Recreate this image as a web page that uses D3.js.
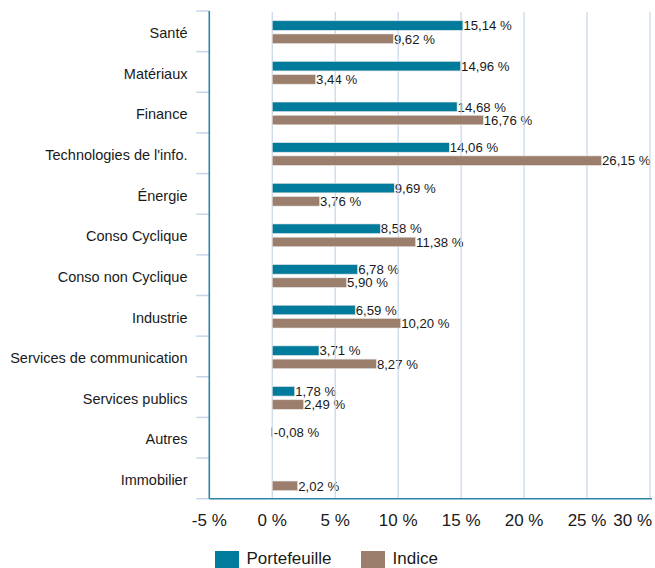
<!DOCTYPE html>
<html><head><meta charset="utf-8">
<script src="https://cdn.jsdelivr.net/npm/d3@7"></script>
<style>
html,body{margin:0;padding:0;background:#fff;}
svg{display:block;font-family:"Liberation Sans",Arial,Helvetica,sans-serif;}
</style></head>
<body>
<svg id="chart" width="655" height="568"></svg>
<script>
const categories = ["Santé","Matériaux","Finance","Technologies de l'info.","Énergie","Conso Cyclique","Conso non Cyclique","Industrie","Services de communication","Services publics","Autres","Immobilier"];
const seriesNames = ["Portefeuille","Indice"];
const portefeuille = [15.14,14.96,14.68,14.06,9.69,8.58,6.78,6.59,3.71,1.78,-0.08,null];
const indice = [9.62,3.44,16.76,26.15,3.76,11.38,5.90,10.20,8.27,2.49,null,2.02];
const xTicks = [-5,0,5,10,15,20,25,30];
const colors = ["#007b9c","#9b7e6b"];

const svg = d3.select("#chart");
const mLeft = 209.3, mRight = 650, mTop = 11, mBottom = 498.7;

const x = d3.scaleLinear().domain([-5,30]).range([mLeft,mRight]);
const y = d3.scaleBand().domain(categories).range([mTop,mBottom]).padding(0);
const y1 = d3.scaleBand().domain(seriesNames).range([y.bandwidth()*0.24, y.bandwidth()*0.80]).paddingInner(0.28);

const fmt = v => (v.toFixed(2).replace(".",",")) + " %";

const data = [];
categories.forEach((c,i)=>{
  [portefeuille[i], indice[i]].forEach((v,j)=>{
    if (v !== null) data.push({cat:c, s:seriesNames[j], v:v, j:j});
  });
});

// value labels (drawn under gridlines)
svg.append("g").selectAll("text").data(data).join("text")
  .attr("x", d => Math.max(x(0), x(d.v)) + (d.v < 0 ? 1.5 : 0.5))
  .attr("y", d => y(d.cat) + y1(d.s) + y1.bandwidth()/2)
  .attr("dy","0.36em")
  .attr("font-size","13.2px")
  .attr("fill","#1a1a1a")
  .text(d => fmt(d.v));

// gridlines
svg.append("g").selectAll("line").data(xTicks.filter(t=>t>-5)).join("line")
  .attr("x1", d=>x(d)).attr("x2", d=>x(d))
  .attr("y1", mTop+1).attr("y2", mBottom)
  .attr("stroke","#c6d6ea").attr("stroke-width",1.2);

// y ticks (category boundaries)
const bounds = categories.map(c=>y(c)).concat([mBottom]);
svg.append("g").selectAll("line").data(bounds).join("line")
  .attr("x1", mLeft-13).attr("x2", mLeft)
  .attr("y1", d=>d).attr("y2", d=>d)
  .attr("stroke","#c6d6ea").attr("stroke-width",1.5);

// bars
svg.append("g").selectAll("rect").data(data).join("rect")
  .attr("x", d => x(Math.min(0,d.v)))
  .attr("width", d => Math.abs(x(d.v)-x(0)))
  .attr("y", d => y(d.cat) + y1(d.s))
  .attr("height", y1.bandwidth())
  .attr("fill", d => colors[d.j])
  .attr("stroke","#e4e4e4").attr("stroke-width",0.6);

// axis lines
svg.append("line").attr("x1",mLeft).attr("x2",mLeft).attr("y1",mTop).attr("y2",mBottom)
  .attr("stroke","#2b86a6").attr("stroke-width",1.6);
svg.append("line").attr("x1",mLeft).attr("x2",652).attr("y1",mBottom).attr("y2",mBottom)
  .attr("stroke","#2b86a6").attr("stroke-width",1.6);

// category labels
svg.append("g").selectAll("text").data(categories).join("text")
  .attr("x", 187.5)
  .attr("y", d => y(d) + y.bandwidth()/2 + 1.5)
  .attr("dy","0.36em")
  .attr("text-anchor","end")
  .attr("font-size","14.5px")
  .attr("fill","#1a1a1a")
  .text(d=>d);

// x tick labels
svg.append("g").selectAll("text").data(xTicks).join("text")
  .attr("x", (d,i) => i===xTicks.length-1 ? 652 : x(d))
  .attr("y", 526)
  .attr("text-anchor", (d,i) => i===xTicks.length-1 ? "end" : "middle")
  .attr("font-size","17px")
  .attr("fill","#1a1a1a")
  .text(d => d + " %");

// legend
const legX = [215, 361];
const lg = svg.append("g").selectAll("g").data(seriesNames).join("g")
  .attr("transform",(d,i)=>`translate(${legX[i]},551)`);
lg.append("rect").attr("width",24).attr("height",17).attr("fill",(d,i)=>colors[i]);
lg.append("text").attr("x",31.5).attr("y",13).attr("font-size","17px").attr("fill","#1a1a1a").text(d=>d);
</script>
</body></html>
